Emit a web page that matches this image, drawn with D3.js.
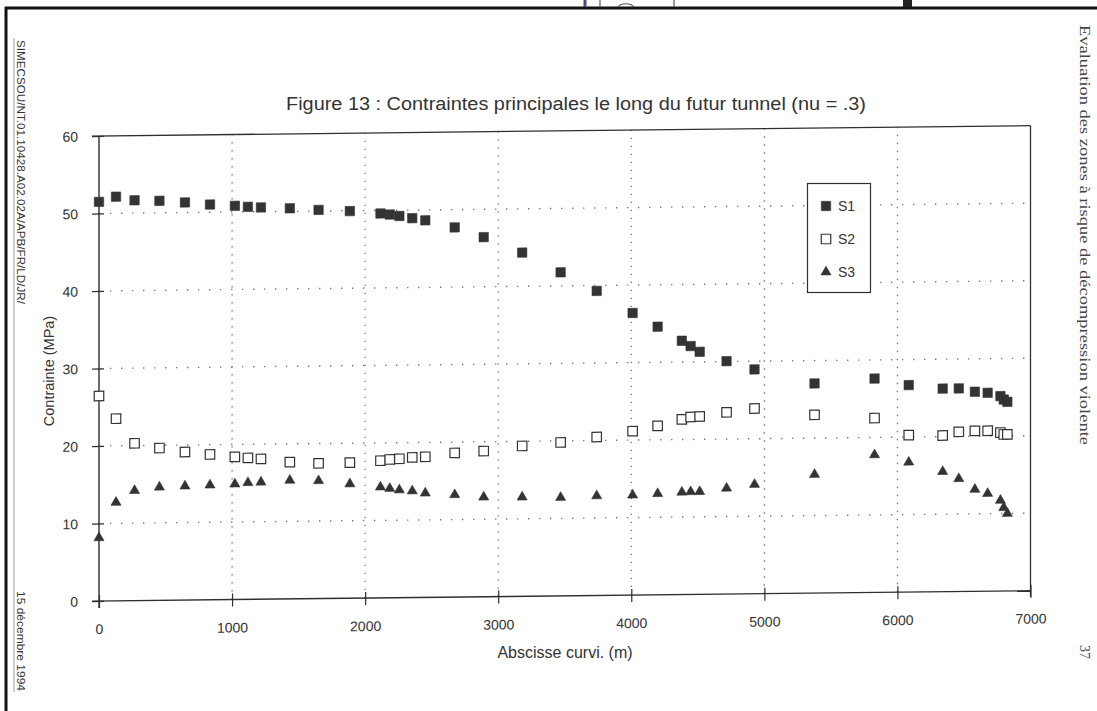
<!DOCTYPE html>
<html><head><meta charset="utf-8">
<script src="https://cdn.jsdelivr.net/npm/d3@7/dist/d3.min.js"></script>
<style>
html,body{margin:0;padding:0;background:#fff;}
svg{display:block;}
</style></head>
<body>
<svg id="chart" width="1097" height="711"></svg>
<script>
// ---- data ----
const title = "Figure 13 : Contraintes principales le long du futur tunnel (nu = .3)";
const xLabel = "Abscisse curvi. (m)";
const yLabel = "Contrainte (MPa)";
const xTicks = [0,1000,2000,3000,4000,5000,6000,7000];
const yTicks = [0,10,20,30,40,50,60];
const seriesNames = ["S1","S2","S3"];
const abscisse = [0,128,267,454,646,834,1021,1119,1217,1434,1650,1885,2115,2185,2257,2354,2452,2673,2891,3180,3469,3740,4010,4198,4380,4446,4514,4716,4926,5377,5828,6085,6340,6461,6582,6678,6774,6799,6826];
const s1 = [51.5,52.15,51.65,51.55,51.3,51.0,50.8,50.65,50.55,50.4,50.15,49.95,49.6,49.45,49.25,48.95,48.65,47.7,46.4,44.35,41.75,39.3,36.4,34.6,32.75,32.05,31.3,30.05,28.95,27.05,27.6,26.7,26.2,26.2,25.75,25.6,25.15,24.7,24.4];
const s2 = [26.45,23.5,20.3,19.65,19.1,18.75,18.4,18.25,18.1,17.65,17.45,17.5,17.7,17.85,17.92,18.08,18.14,18.6,18.8,19.4,19.8,20.45,21.15,21.8,22.6,22.9,22.95,23.45,23.9,23.0,22.5,20.25,20.15,20.6,20.7,20.7,20.45,20.2,20.2];
const s3 = [8.15,12.7,14.2,14.6,14.7,14.8,14.9,15.05,15.1,15.3,15.2,14.75,14.3,14.1,13.9,13.75,13.45,13.2,12.85,12.8,12.7,12.85,12.9,13.05,13.2,13.25,13.25,13.65,14.1,15.3,17.75,16.75,15.5,14.55,13.15,12.6,11.7,10.75,10.0];
const leftNote = "SIMECSOU/NT.01.10428.A02.02A/APB/FR/LD/JR/";
const dateNote = "15 décembre 1994";
const rightNote = "Evaluation des zones à risque de décompression violente";
const pageNum = "37";

// ---- layout ----
const svg = d3.select("#chart");
const X0 = 99, X1 = 1030.5, Y0 = 601, Y1 = 136;
const x = d3.scaleLinear().domain([0,7000]).range([X0,X1]);
const y = d3.scaleLinear().domain([0,60]).range([Y0,Y1]);
const ink = "#2f2f2f";
const sans = "'Liberation Sans', Arial, sans-serif";

// page frame / scan artefacts
svg.append("line").attr("x1",5).attr("x2",1097).attr("y1",8).attr("y2",8).attr("stroke","#111").attr("stroke-width",3);
svg.append("line").attr("x1",6).attr("x2",6).attr("y1",7).attr("y2",711).attr("stroke","#111").attr("stroke-width",3);
svg.append("line").attr("x1",585).attr("x2",585).attr("y1",0).attr("y2",7).attr("stroke","#4a4a7a").attr("stroke-width",3);
svg.append("line").attr("x1",600).attr("x2",600).attr("y1",0).attr("y2",7).attr("stroke","#555").attr("stroke-width",1.2);
svg.append("path").attr("d","M618,7 A9,6 0 0 1 634,7").attr("fill","none").attr("stroke","#555").attr("stroke-width",1.2);
svg.append("line").attr("x1",674).attr("x2",674).attr("y1",0).attr("y2",7).attr("stroke","#555").attr("stroke-width",1.2);
svg.append("rect").attr("x",903).attr("y",0).attr("width",9).attr("height",7).attr("fill","#222");
svg.append("line").attr("x1",14).attr("x2",14).attr("y1",38).attr("y2",692).attr("stroke","#999").attr("stroke-width",1);

// margin texts
svg.append("text").attr("transform","translate(17,40) rotate(90)").attr("font-family",sans).attr("font-size",11)
  .attr("fill","#333").attr("textLength",264).attr("lengthAdjust","spacingAndGlyphs").text(leftNote);
svg.append("text").attr("transform","translate(17,591) rotate(90)").attr("font-family",sans).attr("font-size",11)
  .attr("fill","#333").attr("textLength",100).attr("lengthAdjust","spacingAndGlyphs").text(dateNote);
svg.append("text").attr("transform","translate(1080,25) rotate(90)").attr("font-family","'Liberation Serif', 'Times New Roman', serif").attr("font-size",15)
  .attr("fill","#444").attr("textLength",420).attr("lengthAdjust","spacingAndGlyphs").text(rightNote);
svg.append("text").attr("transform","translate(1080,645) rotate(90)").attr("font-family","'Liberation Serif', serif").attr("font-size",14)
  .attr("fill","#444").text(pageNum);

// title
svg.append("text").attr("x",576).attr("y",110).attr("text-anchor","middle")
  .attr("font-family","'Liberation Sans Narrow','Arial Narrow',"+sans).attr("font-size",18).attr("fill","#333")
  .attr("textLength",580).attr("lengthAdjust","spacingAndGlyphs").text(title);

// axis titles
svg.append("text").attr("transform","translate(54,371) rotate(-90)").attr("text-anchor","middle")
  .attr("font-family",sans).attr("font-size",14.5).attr("fill","#333").text(yLabel);
svg.append("text").attr("x",565).attr("y",658).attr("text-anchor","middle")
  .attr("font-family",sans).attr("font-size",16).attr("fill","#333").text(xLabel);

// plot group, slightly skewed like the scan
const g = svg.append("g").attr("transform",`translate(${X0},${Y0}) skewY(-0.634) translate(${-X0},${-Y0})`);

// dotted grid
const grid = "#7a7a7a";
g.selectAll(".hg").data(yTicks.filter(v=>v>0 && v<60)).join("line")
  .attr("x1",X0).attr("x2",X1).attr("y1",d=>y(d)).attr("y2",d=>y(d))
  .attr("stroke",grid).attr("stroke-width",1.4).attr("stroke-dasharray","1.4,9.6");
g.selectAll(".vg").data(xTicks.filter(v=>v>0 && v<7000)).join("line")
  .attr("x1",d=>x(d)).attr("x2",d=>x(d)).attr("y1",Y0).attr("y2",Y1)
  .attr("stroke",grid).attr("stroke-width",1.4).attr("stroke-dasharray","1.4,6.6");

// frame
g.append("line").attr("x1",X0-7).attr("x2",X1).attr("y1",Y1).attr("y2",Y1).attr("stroke",ink).attr("stroke-width",1.3);
g.append("line").attr("x1",X1).attr("x2",X1).attr("y1",Y1).attr("y2",Y0+6).attr("stroke",ink).attr("stroke-width",1.3);

// axes
const xAxis = d3.axisBottom(x).tickValues(xTicks).tickSize(0).tickPadding(0).tickFormat(d3.format("d"));
const yAxis = d3.axisLeft(y).tickValues(yTicks).tickSize(0).tickPadding(0).tickFormat(d3.format("d"));
const gx = g.append("g").attr("transform",`translate(0,${Y0})`).call(xAxis);
const gy = g.append("g").attr("transform",`translate(${X0},0)`).call(yAxis);
[gx,gy].forEach(a=>{ a.select(".domain").remove(); });
gx.selectAll("text").attr("y",33).attr("dy",0).attr("font-family",sans).attr("font-size",14).attr("fill","#333");
gy.selectAll("text").attr("x",-21).attr("dy","0.35em").attr("font-family",sans).attr("font-size",14).attr("fill","#333");
gx.selectAll(".tick").append("line").attr("y1",-6).attr("y2",7).attr("stroke",ink).attr("stroke-width",1.2);
gy.selectAll(".tick").append("line").attr("x1",-7).attr("x2",5).attr("stroke",ink).attr("stroke-width",1.2);
g.append("line").attr("x1",X0-7).attr("x2",X1).attr("y1",Y0).attr("y2",Y0).attr("stroke",ink).attr("stroke-width",1.4);
g.append("line").attr("x1",X0).attr("x2",X0).attr("y1",Y0+7).attr("y2",Y1).attr("stroke",ink).attr("stroke-width",1.4);

// markers
const sym = {
  S1: d3.symbol().type(d3.symbolSquare).size(88)(),
  S2: d3.symbol().type(d3.symbolSquare).size(90)(),
  S3: d3.symbol().type(d3.symbolTriangle).size(44)()
};
const styles = {
  S1: {fill:"#333", stroke:"#333", sw:0.6},
  S2: {fill:"#fff", stroke:"#333", sw:1.2},
  S3: {fill:"#333", stroke:"#333", sw:0.6}
};
const allSeries = [["S1",s1],["S2",s2],["S3",s3]];
allSeries.forEach(([name,vals])=>{
  g.append("g").selectAll("path").data(vals.map((v,i)=>({x:abscisse[i],y:v}))).join("path")
    .attr("d",sym[name]).attr("transform",d=>`translate(${x(d.x)},${y(d.y)})`)
    .attr("fill",styles[name].fill).attr("stroke",styles[name].stroke).attr("stroke-width",styles[name].sw);
});

// legend
const lg = svg.append("g");
lg.append("rect").attr("x",807.5).attr("y",183.5).attr("width",63).attr("height",109)
  .attr("fill","#fff").attr("stroke",ink).attr("stroke-width",1.2);
seriesNames.forEach((n,i)=>{
  const ly = 206 + i*33;
  lg.append("path").attr("d",sym[n]).attr("transform",`translate(826,${ly})`)
    .attr("fill",styles[n].fill).attr("stroke",styles[n].stroke).attr("stroke-width",styles[n].sw);
  lg.append("text").attr("x",838).attr("y",ly+5).attr("font-family",sans).attr("font-size",14).attr("fill","#333").text(n);
});
</script>
</body></html>
